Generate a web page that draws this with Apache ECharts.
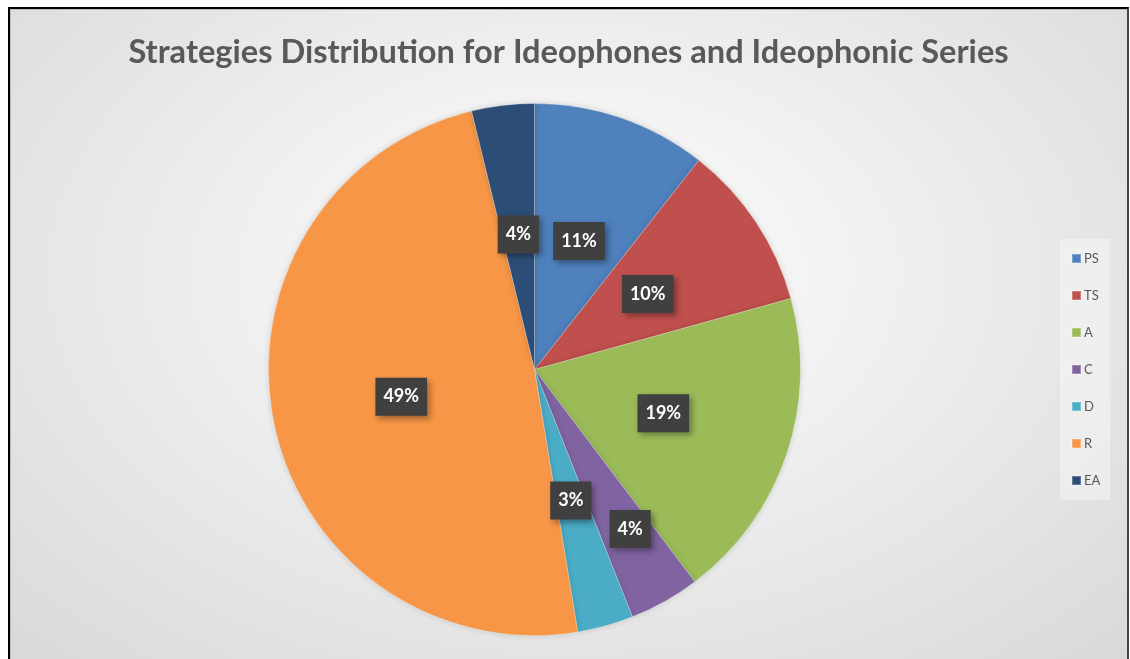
<!DOCTYPE html>
<html>
<head>
<meta charset="utf-8">
<script src="https://cdn.jsdelivr.net/npm/echarts@6/dist/echarts.min.js"></script>
<style>
  html, body { margin: 0; padding: 0; background: #fff; overflow: hidden; }
  .frame {
    position: absolute;
    left: 8px;
    top: 7px;
    width: 1117px;
    height: 700px;
    border: 2px solid #000;
    border-right-color: #444;
    background: radial-gradient(ellipse 75% 80% at 50% 38%, #ffffff 0%, #f1f1f1 35%, #d7d7d7 100%);
    box-shadow: inset 1px 1px 0 #bdbdbd;
    overflow: hidden;
  }
  #chart { width: 1117px; height: 660px; }
</style>
</head>
<body>
<div class="frame"><div id="chart"></div></div>
<script>
// 策略分布数据（单位：%）
const categories = ['PS', 'TS', 'A', 'C', 'D', 'R', 'EA']
const values = [10.6, 10.1, 19.0, 4.3, 3.4, 48.8, 3.8]
const colors = ['#4f81bd', '#c0504d', '#9bbb59', '#8064a2', '#4bacc6', '#f79646', '#2c4d75']

const chart = echarts.init(document.getElementById('chart'))

const option = {
  backgroundColor: 'transparent',
  title: {
    text: 'Strategies Distribution for Ideophones and Ideophonic Series',
    left: 'center',
    top: 22,
    textStyle: {
      fontFamily: 'Lato',
      fontSize: 32.6,
      fontWeight: 'bold',
      color: '#595959'
    }
  },
  legend: {
    orient: 'vertical',
    left: 1050,
    top: 230,
    padding: [13, 10, 13, 11],
    backgroundColor: 'rgba(255,255,255,0.35)',
    itemWidth: 9,
    itemHeight: 9,
    itemGap: 24,
    icon: 'rect',
    textStyle: {
      fontFamily: 'Lato',
      fontSize: 13,
      color: '#595959',
      padding: [0, 0, 0, -2]
    },
    data: categories
  },
  series: [
    {
      type: 'pie',
      center: [524.5, 360.5],
      radius: [0, 266],
      startAngle: 90,
      clockwise: true,
      percentPrecision: 0,
      itemStyle: {
        borderColor: 'rgba(255,255,255,0.25)',
        borderWidth: 1,
        shadowBlur: 6,
        shadowColor: 'rgba(0,0,0,0.15)'
      },
      label: {
        show: true,
        position: 'inside',
        formatter: '{d}%',
        color: '#fff',
        fontFamily: 'Lato',
        fontWeight: 'bold',
        fontSize: 18,
        lineHeight: 18,
        backgroundColor: '#404040',
        padding: [10, 8],
        shadowBlur: 6,
        shadowOffsetX: 3,
        shadowOffsetY: 3,
        shadowColor: 'rgba(0,0,0,0.35)'
      },
      labelLine: { show: false },
      emphasis: { disabled: true },
      data: categories.map((name, i) => {
        const item = { name, value: values[i], itemStyle: { color: colors[i] } }
        // C 的标签在原图中向外偏移
        if (name === 'C') item.label = { offset: [29, 41] }
        return item
      })
    }
  ]
}

chart.setOption(option, true)
</script>
</body>
</html>
